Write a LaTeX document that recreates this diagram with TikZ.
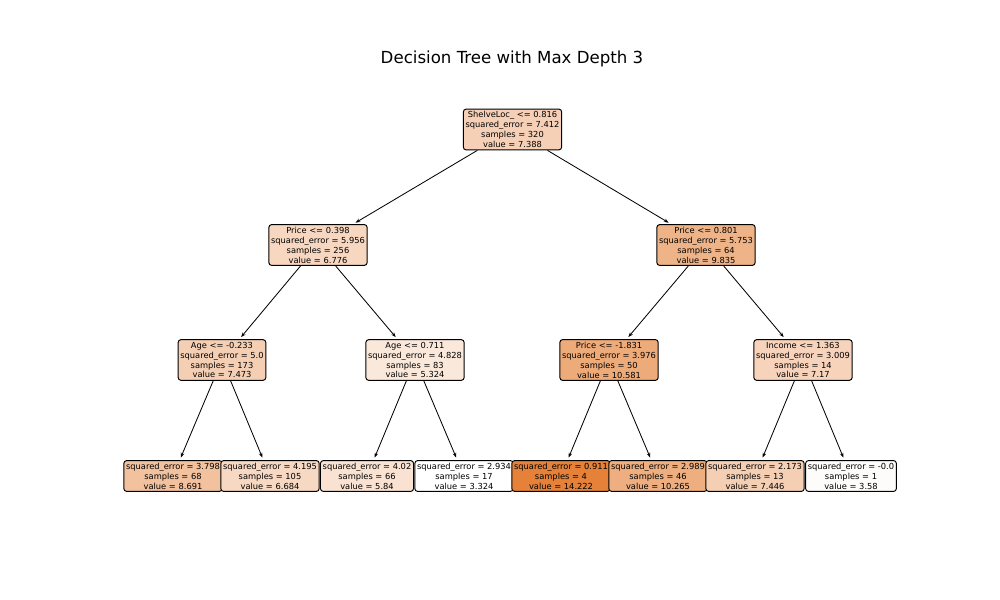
\documentclass[tikz,border=0pt]{standalone}
\usepackage{fontspec}
\setmainfont{DejaVu Sans}
\usepackage{xcolor}
\usetikzlibrary{arrows.meta}
\definecolor{treeorange}{RGB}{229,129,57}

\begin{document}
\begin{tikzpicture}[x=0.01in,y=-0.01in,
  box/.style={draw,rounded corners=2pt,line width=0.7pt,align=center,inner sep=1.6pt,
    font=\fontsize{6}{7.2}\selectfont},
  edge/.style={-{Stealth[length=3.5pt,width=2.6pt]},line width=0.6pt,shorten >=2pt}]
\useasboundingbox (0,0) rectangle (1000,600);

\node[font=\fontsize{12}{14}\selectfont] (title) at (512,59) {Decision Tree with Max Depth 3};

\node[box,fill=treeorange!37] (root) at (512.5,129.5) {ShelveLoc\_ <= 0.816\\squared\_error = 7.412\\samples = 320\\value = 7.388};

\node[box,fill=treeorange!32] (l) at (318,245) {Price <= 0.398\\squared\_error = 5.956\\samples = 256\\value = 6.776};
\node[box,fill=treeorange!60] (r) at (706,245) {Price <= 0.801\\squared\_error = 5.753\\samples = 64\\value = 9.835};

\node[box,fill=treeorange!38] (ll) at (222,360) {Age <= -0.233\\squared\_error = 5.0\\samples = 173\\value = 7.473};
\node[box,fill=treeorange!18] (lr) at (415,360) {Age <= 0.711\\squared\_error = 4.828\\samples = 83\\value = 5.324};
\node[box,fill=treeorange!67] (rl) at (609,360) {Price <= -1.831\\squared\_error = 3.976\\samples = 50\\value = 10.581};
\node[box,fill=treeorange!35] (rr) at (803,360) {Income <= 1.363\\squared\_error = 3.009\\samples = 14\\value = 7.17};

\node[box,fill=treeorange!49] (lll) at (173,476) {squared\_error = 3.798\\samples = 68\\value = 8.691};
\node[box,fill=treeorange!31] (llr) at (270,476) {squared\_error = 4.195\\samples = 105\\value = 6.684};
\node[box,fill=treeorange!23] (lrl) at (367,476) {squared\_error = 4.02\\samples = 66\\value = 5.84};
\node[box,fill=white] (lrr) at (464,476) {squared\_error = 2.934\\samples = 17\\value = 3.324};
\node[box,fill=treeorange] (rll) at (561,476) {squared\_error = 0.911\\samples = 4\\value = 14.222};
\node[box,fill=treeorange!64] (rlr) at (658,476) {squared\_error = 2.989\\samples = 46\\value = 10.265};
\node[box,fill=treeorange!38] (rrl) at (755,476) {squared\_error = 2.173\\samples = 13\\value = 7.446};
\node[box,fill=treeorange!2] (rrr) at (851,476) {squared\_error = -0.0\\samples = 1\\value = 3.58};

\draw[edge] (root) -- (l);
\draw[edge] (root) -- (r);
\draw[edge] (l) -- (ll);
\draw[edge] (l) -- (lr);
\draw[edge] (r) -- (rl);
\draw[edge] (r) -- (rr);
\draw[edge] (ll) -- (lll);
\draw[edge] (ll) -- (llr);
\draw[edge] (lr) -- (lrl);
\draw[edge] (lr) -- (lrr);
\draw[edge] (rl) -- (rll);
\draw[edge] (rl) -- (rlr);
\draw[edge] (rr) -- (rrl);
\draw[edge] (rr) -- (rrr);
\end{tikzpicture}
\end{document}
